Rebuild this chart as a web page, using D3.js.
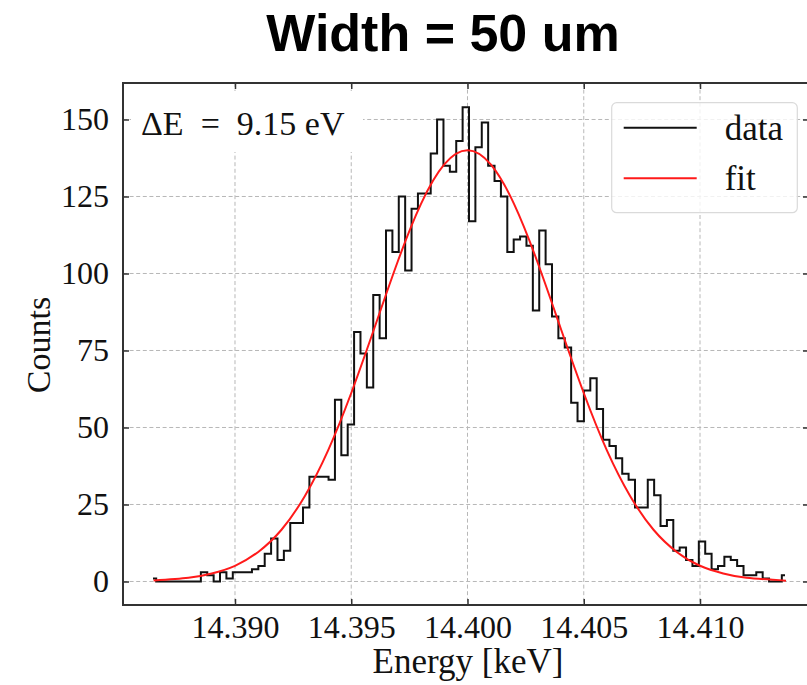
<!DOCTYPE html>
<html>
<head>
<meta charset="utf-8">
<script src="https://cdn.jsdelivr.net/npm/d3@7"></script>
<style>
  body { margin: 0; background: #fff; }
</style>
</head>
<body>
<div id="chart"></div>
<script>
// histogram counts, one per bin (100 bins)
const counts = [
  1, 0, 0, 0, 0, 0, 0, 0, 3, 2,
  0, 3, 1, 3, 3, 3, 4, 5, 9, 14,
  7, 10, 19, 19, 24, 34, 34, 34, 33, 59,
  41, 51, 81, 74, 63, 93, 79, 114, 107, 125,
  101, 121, 126, 126, 139, 150, 135, 133, 143, 154,
  117, 141, 149, 135, 130, 125, 107, 111, 112, 109,
  88, 114, 103, 86, 79, 76, 58, 52, 62, 66,
  56, 46, 44, 40, 35, 33, 24, 24, 33, 28,
  18, 20, 10, 11, 7, 5, 13, 9, 4, 5,
  8, 7, 5, 2, 2, 3, 1, 0, 0, 2
];
const firstBin = 14.386473;   // keV, centre of first bin
const binStep = 0.00027458;   // keV

// fitted curve, sampled
const fitEnergy = [14.3865, 14.388, 14.389, 14.390, 14.391, 14.392, 14.393, 14.394, 14.395,
  14.396, 14.397, 14.398, 14.399, 14.400, 14.401, 14.402, 14.403, 14.404, 14.405,
  14.406, 14.407, 14.408, 14.409, 14.410, 14.411, 14.412, 14.4137];
const fitCounts = [0.34, 1.2, 2.6, 5.1, 9.6, 16.8, 27.7, 42.5, 61.2,
  82.4, 103.9, 122.6, 135.4, 140, 135.4, 122.6, 103.9, 82.4, 61.2,
  42.5, 27.7, 16.8, 9.6, 5.1, 2.6, 1.2, 0.28];

const xTicks = [14.390, 14.395, 14.400, 14.405, 14.410];
const yTicks = [0, 25, 50, 75, 100, 125, 150];

const width = 807, height = 685;
const margin = {top: 83, right: -2, bottom: 80, left: 123};
const w = width - margin.left - margin.right;
const h = height - margin.top - margin.bottom;

const serif = "'Liberation Serif', 'DejaVu Serif', serif";

const svg = d3.select("#chart")
  .append("svg")
    .attr("width", width)
    .attr("height", height);

svg.append("text")
  .attr("x", 443)
  .attr("y", 51)
  .attr("text-anchor", "middle")
  .style("font-family", "'Liberation Sans', Arial, sans-serif")
  .style("font-weight", "bold")
  .style("font-size", "52px")
  .text("Width = 50 um");

const g = svg.append("g")
  .attr("transform", `translate(${margin.left}, ${margin.top})`);

const x = d3.scaleLinear()
  .domain([14.385183, 14.414688])
  .range([0, w]);

const y = d3.scaleLinear()
  .domain([-7.63, 161.85])
  .range([h, 0]);

// grid
g.append("g")
  .selectAll("line")
  .data(xTicks)
  .join("line")
    .attr("x1", d => x(d)).attr("x2", d => x(d))
    .attr("y1", 0).attr("y2", h)
    .attr("stroke", "#b8b8b8")
    .attr("stroke-width", 1)
    .attr("stroke-dasharray", "4,2.6");

g.append("g")
  .selectAll("line")
  .data(yTicks)
  .join("line")
    .attr("x1", 0).attr("x2", w)
    .attr("y1", d => y(d)).attr("y2", d => y(d))
    .attr("stroke", "#b8b8b8")
    .attr("stroke-width", 1)
    .attr("stroke-dasharray", "4,2.6");

// data step line
const bins = counts.map((c, i) => ({e: firstBin + i * binStep, c: c}));

g.append("path")
  .datum(bins)
  .attr("fill", "none")
  .attr("stroke", "#111")
  .attr("stroke-width", 2)
  .attr("d", d3.line()
    .x(d => x(d.e))
    .y(d => y(d.c))
    .curve(d3.curveStep));

// fit
g.append("path")
  .datum(fitEnergy.map((e, i) => ({e: e, c: fitCounts[i]})))
  .attr("fill", "none")
  .attr("stroke", "#ff1a1a")
  .attr("stroke-width", 2)
  .attr("d", d3.line()
    .x(d => x(d.e))
    .y(d => y(d.c))
    .curve(d3.curveNatural));

// axes, ticks pointing in
g.append("g")
  .attr("transform", `translate(0, ${h})`)
  .call(d3.axisBottom(x).tickValues(xTicks).tickFormat(d3.format(".3f"))
    .tickSizeInner(-6).tickSizeOuter(0).tickPadding(10));
g.append("g")
  .call(d3.axisTop(x).tickValues(xTicks).tickFormat("")
    .tickSizeInner(-6).tickSizeOuter(0));
g.append("g")
  .call(d3.axisLeft(y).tickValues(yTicks)
    .tickSizeInner(-6).tickSizeOuter(0).tickPadding(14));
g.append("g")
  .attr("transform", `translate(${w}, 0)`)
  .call(d3.axisRight(y).tickValues(yTicks).tickFormat("")
    .tickSizeInner(-6).tickSizeOuter(0));

g.selectAll(".domain").remove();
g.selectAll(".tick line").attr("stroke", "#333").attr("stroke-width", 1.5);
g.selectAll(".tick text")
  .attr("fill", "#111")
  .style("font-family", serif)
  .style("font-size", "32px");

g.append("rect")
  .attr("width", w)
  .attr("height", h)
  .attr("fill", "none")
  .attr("stroke", "#333")
  .attr("stroke-width", 2);

// delta E label
g.append("rect")
  .attr("x", 8).attr("y", 8)
  .attr("width", 232).attr("height", 61)
  .attr("fill", "#fff");
g.append("text")
  .attr("x", 18)
  .attr("y", 52)
  .style("font-family", serif)
  .style("font-size", "34px")
  .style("white-space", "pre")
  .attr("fill", "#111")
  .text("ΔE  =  9.15 eV");

// legend
const legend = g.append("g")
  .attr("transform", `translate(${611.7 - margin.left}, ${102.7 - margin.top})`);
legend.append("rect")
  .attr("width", 185.6)
  .attr("height", 110)
  .attr("rx", 5)
  .attr("fill", "#fff")
  .attr("fill-opacity", 0.8)
  .attr("stroke", "#dadada")
  .attr("stroke-width", 1.2);
const items = [{label: "data", color: "#111"}, {label: "fit", color: "#ff1a1a"}];
items.forEach((d, i) => {
  legend.append("line")
    .attr("x1", 12).attr("x2", 85)
    .attr("y1", 25 + i * 50.6).attr("y2", 25 + i * 50.6)
    .attr("stroke", d.color)
    .attr("stroke-width", 2);
  legend.append("text")
    .attr("x", 113)
    .attr("y", 37 + i * 50.6)
    .style("font-family", serif)
    .style("font-size", "35px")
    .attr("fill", "#111")
    .text(d.label);
});

// axis titles
svg.append("text")
  .attr("transform", "rotate(-90)")
  .attr("x", -345)
  .attr("y", 50)
  .attr("text-anchor", "middle")
  .style("font-family", serif)
  .style("font-size", "34px")
  .attr("fill", "#111")
  .text("Counts");

svg.append("text")
  .attr("x", 468)
  .attr("y", 673)
  .attr("text-anchor", "middle")
  .style("font-family", serif)
  .style("font-size", "35px")
  .attr("fill", "#111")
  .text("Energy [keV]");
</script>
</body>
</html>
